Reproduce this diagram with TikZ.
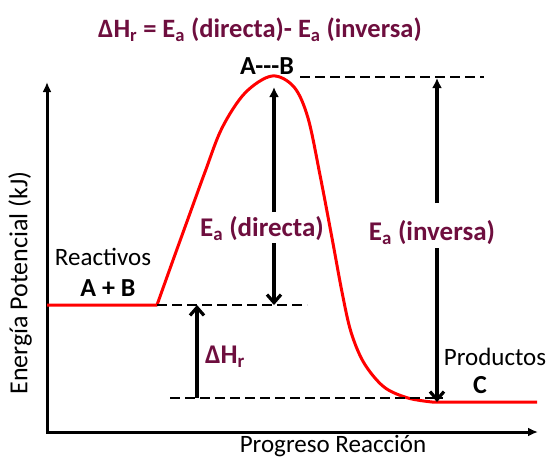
\documentclass[tikz,border=0pt]{standalone}
\usepackage{fontspec}
\setmainfont{Carlito}
\usetikzlibrary{arrows.meta}
\definecolor{granate}{RGB}{110,14,62}
\begin{document}
\begin{tikzpicture}[x=1pt,y=-1pt]
	% Estilos
	\tikzstyle{eje}=[line width=3pt,{Latex[length=10pt,width=9pt]}-{Latex[length=10pt,width=9pt]}]
	\tikzstyle{curva}=[red,line width=3pt,line join=round]
	\tikzstyle{nivel}=[black,line width=2.6pt,dash pattern=on 10pt off 5pt]
	\tikzstyle{flecha}=[line width=3.2pt,-{Latex[length=10pt,width=10pt]}]
	\tikzstyle{flechab}=[line width=3.2pt,-{Straight Barb[length=8pt,width=14pt]}]
	\tikzstyle{texto}=[font=\fontsize{25}{29}\selectfont,inner sep=0pt]
	\tikzstyle{especie}=[font=\fontsize{26}{30}\selectfont\bfseries,inner sep=0pt]
	\tikzstyle{energia}=[granate,font=\fontsize{27}{31}\selectfont\bfseries,inner sep=0pt]
	% Niveles
	\def\NivelPico{77}
	\def\NivelReac{305}
	\def\NivelProd{400}
	\def\Base{432}
	% Marco
	\useasboundingbox (0,0) rectangle (547,459);
	% Ejes
	\coordinate (O) at (47,\Base);
	\coordinate (Ytop) at (47,82);
	\coordinate (Xfin) at (538,\Base);
	\draw[eje] (Ytop) -- (O) -- (Xfin);
	\node[texto,font=\fontsize{26}{30}\selectfont,rotate=90] (ylab) at (20,283) {Energía Potencial (kJ)};
	\node[texto] (xlab) at (333,446) {Progreso Reacción};
	% Curva de energia
	\coordinate (R0) at (47,\NivelReac);
	\coordinate (R1) at (157,\NivelReac);
	\coordinate (P2) at (537,\NivelProd+2);
	\draw[curva] (R0) -- (R1) -- plot[smooth,tension=0.55] coordinates {(157,305) (172,263) (189,216) (205,172) (222,128) (245,93) (272,76) (294,87) (308,118) (320,175) (332,238) (342,292) (351,332) (364,363) (384,387) (408,398) (432,402)} -- (P2);
	% Niveles de energia
	\coordinate (R2) at (307,\NivelReac);
	\coordinate (T1) at (300,\NivelPico);
	\coordinate (T2) at (484,\NivelPico);
	\coordinate (P0) at (170,\NivelProd-2);
	\coordinate (P3) at (443,\NivelProd-2);
	\draw[nivel] (R1) -- (R2);
	\draw[nivel] (T1) -- (T2);
	\draw[nivel] (P0) -- (P3);
	% Flechas
	\coordinate (DA) at (274,212);
	\coordinate (DB) at (274,87);
	\coordinate (DC) at (274,243);
	\coordinate (DD) at (274,\NivelReac);
	\coordinate (IA) at (437,203);
	\coordinate (IB) at (437,78);
	\coordinate (IC) at (437,248);
	\coordinate (ID) at (437,\NivelProd+2);
	\coordinate (HA) at (197,\NivelReac);
	\coordinate (HB) at (197,\NivelProd-2);
	\draw[flecha] (DA) -- (DB);
	\draw[flechab] (DC) -- (DD);
	\draw[flecha] (IA) -- (IB);
	\draw[flechab] (IC) -- (ID);
	\draw[flechab,{Straight Barb[length=8pt,width=14pt]}-] (HA) -- (HB);
	% Textos
	\node[energia,font=\fontsize{26.5}{30}\selectfont\bfseries] (titulo) at (260,30) {ΔH\textsubscript{r} = E\textsubscript{a} (directa)- E\textsubscript{a} (inversa)};
	\node[energia] (EaD) at (262,229) {E\textsubscript{a} (directa)};
	\node[energia] (EaI) at (432,233) {E\textsubscript{a} (inversa)};
	\node[energia] (DH) at (225,357) {ΔH\textsubscript{r}};
	\node[texto] (reac) at (103,257) {Reactivos};
	\node[especie] (AB) at (108,288) {A + B};
	\node[especie] (TS) at (267,66) {A-{}-{}-B};
	\node[texto,text depth=0pt,anchor=base] (prod) at (495,365) {Productos};
	\node[especie,anchor=base] (C) at (480,393) {C};
\end{tikzpicture}
\end{document}
